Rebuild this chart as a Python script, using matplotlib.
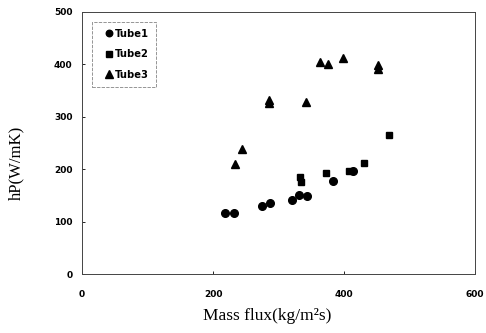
import matplotlib
matplotlib.use("Agg")
import matplotlib.pyplot as plt

tube1_x = [218, 232, 275, 287, 320, 332, 343, 384, 414]
tube1_y = [116, 116, 130, 135, 141, 150, 148, 178, 197]
tube2_x = [333, 334, 372, 407, 430, 469]
tube2_y = [186, 175, 192, 197, 211, 265]
tube3_x = [234, 245, 286, 286, 342, 364, 375, 399, 452, 452]
tube3_y = [210, 238, 333, 326, 329, 405, 400, 412, 398, 391]

x_ticks = [0, 200, 400, 600]
y_ticks = [0, 100, 200, 300, 400, 500]

fig = plt.figure(figsize=(4.86, 3.33), dpi=100)
ax = fig.add_axes([0.169, 0.177, 0.808, 0.787])

ax.plot(tube1_x, tube1_y, linestyle='none', marker='o', color='black', markersize=5.5, label='Tube1')
ax.plot(tube2_x, tube2_y, linestyle='none', marker='s', color='black', markersize=5, label='Tube2')
ax.plot(tube3_x, tube3_y, linestyle='none', marker='^', color='black', markersize=6, label='Tube3')

ax.set_xlim(0, 600)
ax.set_ylim(0, 500)
ax.set_xticks(x_ticks)
ax.set_yticks(y_ticks)
ax.tick_params(direction='in', length=2, width=0.6)
ax.tick_params(axis='x', pad=11.5)
ax.tick_params(axis='y', pad=7)
for lab in ax.get_xticklabels() + ax.get_yticklabels():
    lab.set_fontfamily('DejaVu Sans')
    lab.set_fontweight('bold')
    lab.set_fontsize(6.5)
for s in ax.spines.values():
    s.set_linewidth(0.7)
    s.set_color('#444444')

ax.set_xlabel('Mass flux(kg/m²s)', fontfamily='Liberation Serif', fontsize=12.5)
ax.set_ylabel('hP(W/mK)', fontfamily='Liberation Serif', fontsize=12)
ax.xaxis.set_label_coords(0.471, -0.16)
ax.yaxis.set_label_coords(-0.168, 0.424)
ax.xaxis.label.set_va('center')
ax.yaxis.label.set_va('center')

leg = ax.legend(loc='upper left', bbox_to_anchor=(0.025, 0.962), frameon=True, fancybox=False,
                prop={'family': 'DejaVu Sans', 'weight': 'bold', 'size': 7.2},
                handlelength=2.0, handletextpad=-0.4, labelspacing=1.05, borderpad=0.7,
                borderaxespad=0, markerscale=0.85)
leg.get_frame().set_edgecolor('#666666')
leg.get_frame().set_linewidth(0.6)
leg.get_frame().set_linestyle((0, (4, 1.5)))

fig.savefig('out.png', dpi=100)
